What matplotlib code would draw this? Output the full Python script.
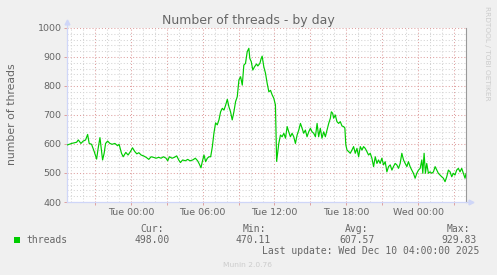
import matplotlib
matplotlib.use("Agg")
import matplotlib.pyplot as plt
from matplotlib.ticker import MultipleLocator, FuncFormatter
from matplotlib.patches import Rectangle

# ---- data (hours relative to Tue 00:00, number of threads) ----
hours = [
    -5.29, -4.94, -4.53, -4.39, -4.17, -3.98, -3.78, -3.61, -3.48, -3.28,
    -3.06, -2.86, -2.73, -2.58, -2.44, -2.36, -2.23, -2.11, -1.94, -1.75,
    -1.56, -1.33, -1.11, -0.98, -0.78, -0.64, -0.42, -0.23, 0.00, 0.14,
    0.33, 0.50, 0.67, 0.86, 1.06, 1.28, 1.50, 1.69, 1.89, 2.11,
    2.33, 2.53, 2.72, 2.94, 3.08, 3.22, 3.44, 3.64, 3.83, 4.00,
    4.14, 4.33, 4.56, 4.75, 4.94, 5.17, 5.39, 5.58, 5.72, 5.86,
    5.97, 6.11, 6.25, 6.39, 6.53, 6.67, 6.81, 6.94, 7.08, 7.22,
    7.36, 7.50, 7.64, 7.78, 7.92, 8.06, 8.19, 8.33, 8.47, 8.61,
    8.75, 8.89, 9.03, 9.17, 9.31, 9.44, 9.58, 9.72, 9.86, 9.94,
    10.06, 10.19, 10.33, 10.50, 10.61, 10.78, 10.89, 10.97, 11.11, 11.25,
    11.39, 11.53, 11.67, 11.81, 11.94, 12.08, 12.18, 12.36, 12.50, 12.64,
    12.78, 12.92, 13.06, 13.19, 13.33, 13.47, 13.61, 13.75, 13.89, 14.03,
    14.17, 14.31, 14.44, 14.58, 14.72, 14.86, 15.00, 15.14, 15.28, 15.42,
    15.56, 15.69, 15.83, 15.97, 16.11, 16.25, 16.39, 16.53, 16.67, 16.75,
    16.86, 16.94, 17.08, 17.22, 17.36, 17.50, 17.64, 17.78, 17.88, 17.96,
    18.06, 18.19, 18.33, 18.47, 18.61, 18.75, 18.89, 19.03, 19.17, 19.31,
    19.44, 19.58, 19.72, 19.86, 20.00, 20.14, 20.28, 20.42, 20.56, 20.69,
    20.83, 20.97, 21.11, 21.25, 21.39, 21.53, 21.67, 21.81, 21.94, 22.08,
    22.22, 22.36, 22.50, 22.64, 22.78, 22.92, 23.06, 23.19, 23.33, 23.47,
    23.61, 23.75, 23.89, 24.03, 24.17, 24.31, 24.39, 24.50, 24.61, 24.72,
    24.86, 25.00, 25.14, 25.28, 25.42, 25.56, 25.69, 25.83, 25.97, 26.11,
    26.25, 26.39, 26.53, 26.67, 26.81, 26.94, 27.08, 27.22, 27.36, 27.50,
    27.64, 27.78, 27.92, 28.00,
]
threads = [
    597, 602, 606, 614, 602, 610, 614, 633, 602, 599,
    574, 548, 585, 622, 574, 545, 568, 602, 610, 602,
    599, 602, 594, 599, 568, 556, 571, 562, 576, 587,
    574, 566, 570, 562, 559, 554, 547, 556, 554, 551,
    554, 551, 556, 551, 542, 556, 551, 554, 559, 545,
    536, 545, 542, 547, 542, 545, 551, 542, 531, 518,
    539, 562, 539, 551, 556, 556, 591, 637, 673, 666,
    683, 711, 723, 717, 734, 754, 729, 711, 683, 711,
    746, 763, 821, 832, 803, 872, 878, 918, 930, 895,
    884, 855, 866, 876, 869, 878, 895, 903, 866, 844,
    809, 780, 785, 769, 758, 735, 540, 602, 631, 625,
    637, 620, 660, 642, 625, 637, 625, 602, 631, 648,
    671, 654, 637, 648, 625, 642, 654, 642, 637, 625,
    671, 625, 654, 620, 642, 625, 648, 671, 689, 711,
    706, 689, 700, 677, 671, 677, 662, 660, 655, 597,
    579, 574, 568, 579, 591, 568, 585, 556, 591, 579,
    591, 585, 574, 562, 568, 551, 522, 556, 533, 545,
    533, 551, 528, 539, 504, 522, 528, 510, 522, 533,
    528, 516, 533, 568, 545, 533, 522, 539, 522, 510,
    499, 482, 499, 510, 516, 545, 499, 568, 499, 533,
    499, 504, 499, 504, 522, 510, 499, 493, 487, 482,
    470, 487, 510, 504, 487, 499, 493, 510, 516, 504,
    516, 499, 482, 498,
]
title = "Number of threads - by day"
ylabel = "number of threads"
series_name = "threads"
stat_names = ["Cur:", "Min:", "Avg:", "Max:"]
stat_values = ["498.00", "470.11", "607.57", "929.83"]
last_update = "Last update: Wed Dec 10 04:00:00 2025"
version = "Munin 2.0.76"
watermark = "RRDTOOL / TOBI OETIKER"
x_start, x_end = -5.333, 28.0
y_min, y_max = 400, 1000

# ---- styling ----
W, H = 497, 275
FONT = "#666666"
AXIS = "#CFD6F8"
LINE = "#00CC00"


def fx(px):
    return px / W


def fy(py):
    return 1 - py / H


fig = plt.figure(figsize=(W / 100, H / 100), dpi=100, facecolor="#F0F0F0")
ax = fig.add_axes([fx(67), fy(202), fx(466) - fx(67), fy(28) - fy(202)])
ax.set_facecolor("white")

ax.plot(hours, threads, color=LINE, lw=0.85, zorder=3, solid_joinstyle="round")

ax.set_xlim(x_start, x_end)
ax.set_ylim(y_min, y_max)

ax.xaxis.set_major_locator(MultipleLocator(3))
ax.xaxis.set_minor_locator(MultipleLocator(1))
ax.yaxis.set_major_locator(MultipleLocator(100))
ax.yaxis.set_minor_locator(MultipleLocator(20))


def xfmt(v, pos):
    h = int(round(v))
    if h % 6 != 0:
        return ""
    day = "Tue" if h < 24 else "Wed"
    return f"{day} {h % 24:02d}:00"


ax.xaxis.set_major_formatter(FuncFormatter(xfmt))
ax.yaxis.set_major_formatter(FuncFormatter(lambda v, p: f"{int(v)}"))

ax.grid(which="major", color="#DFA0A0", linestyle=(0, (1, 2)), lw=0.75, zorder=1)
ax.grid(which="minor", color="#D4D4D4", linestyle=(0, (1, 2)), lw=0.75, zorder=1)
ax.set_axisbelow(True)

ax.tick_params(which="major", length=2, width=0.7, color="#DFA0A0",
               labelsize=6.8, labelcolor=FONT, pad=2)
ax.tick_params(which="minor", length=0)
for lbl in ax.get_xticklabels() + ax.get_yticklabels():
    lbl.set_fontfamily("DejaVu Sans")

for s in ["top"]:
    ax.spines[s].set_visible(False)
ax.spines["right"].set_color("#999999")
ax.spines["right"].set_linewidth(0.8)
ax.spines["left"].set_color(AXIS)
ax.spines["bottom"].set_color(AXIS)
ax.spines["left"].set_linewidth(0.9)
ax.spines["bottom"].set_linewidth(0.9)

# axis extensions with arrows
tr = ax.transAxes
ax.plot([0, 0], [1, 1.035], color=AXIS, lw=0.9, transform=tr, clip_on=False)
ax.plot([1, 1.012], [0, 0], color=AXIS, lw=0.9, transform=tr, clip_on=False)
ax.plot([0], [1.035], marker="^", ms=3.5, color=AXIS, mec=AXIS,
        transform=tr, clip_on=False)
ax.plot([1.012], [0], marker=">", ms=3.5, color=AXIS, mec=AXIS,
        transform=tr, clip_on=False)

# texts
fig.text(fx(248.5), fy(24), title, ha="center", va="baseline",
         fontsize=9, color=FONT, family="DejaVu Sans")
fig.text(fx(12.5), fy(114), ylabel, ha="center", va="center", rotation=90,
         fontsize=7.8, color=FONT, family="DejaVu Sans")
fig.text(fx(487.5), fy(53.5), watermark, ha="center", va="center",
         rotation=270, fontsize=5.3, color="#CCCCCC", family="DejaVu Sans")

fig.add_artist(Rectangle((fx(14), fy(242.5)), 6 / W, 6 / H,
                         transform=fig.transFigure, color=LINE, lw=0))
mono = "DejaVu Sans Mono"
fig.text(fx(26), fy(243), series_name, ha="left", va="baseline",
         fontsize=7, color=FONT, family=mono)
label_left = [140, 242.7, 345, 446.7]
value_left = [134.3, 236, 339, 441]
for name, val, lx, vx in zip(stat_names, stat_values, label_left, value_left):
    fig.text(fx(lx), fy(231.5), name, ha="left", va="baseline",
             fontsize=7, color=FONT, family=mono)
    fig.text(fx(vx), fy(243), val, ha="left", va="baseline",
             fontsize=7, color=FONT, family=mono)
fig.text(fx(261.7), fy(253.5), last_update, ha="left", va="baseline",
         fontsize=7, color=FONT, family=mono)
fig.text(fx(247.5), fy(267), version, ha="center", va="baseline",
         fontsize=5.4, color="#CCCCCC", family="DejaVu Sans")

fig.savefig("out.png", dpi=100, facecolor=fig.get_facecolor())
